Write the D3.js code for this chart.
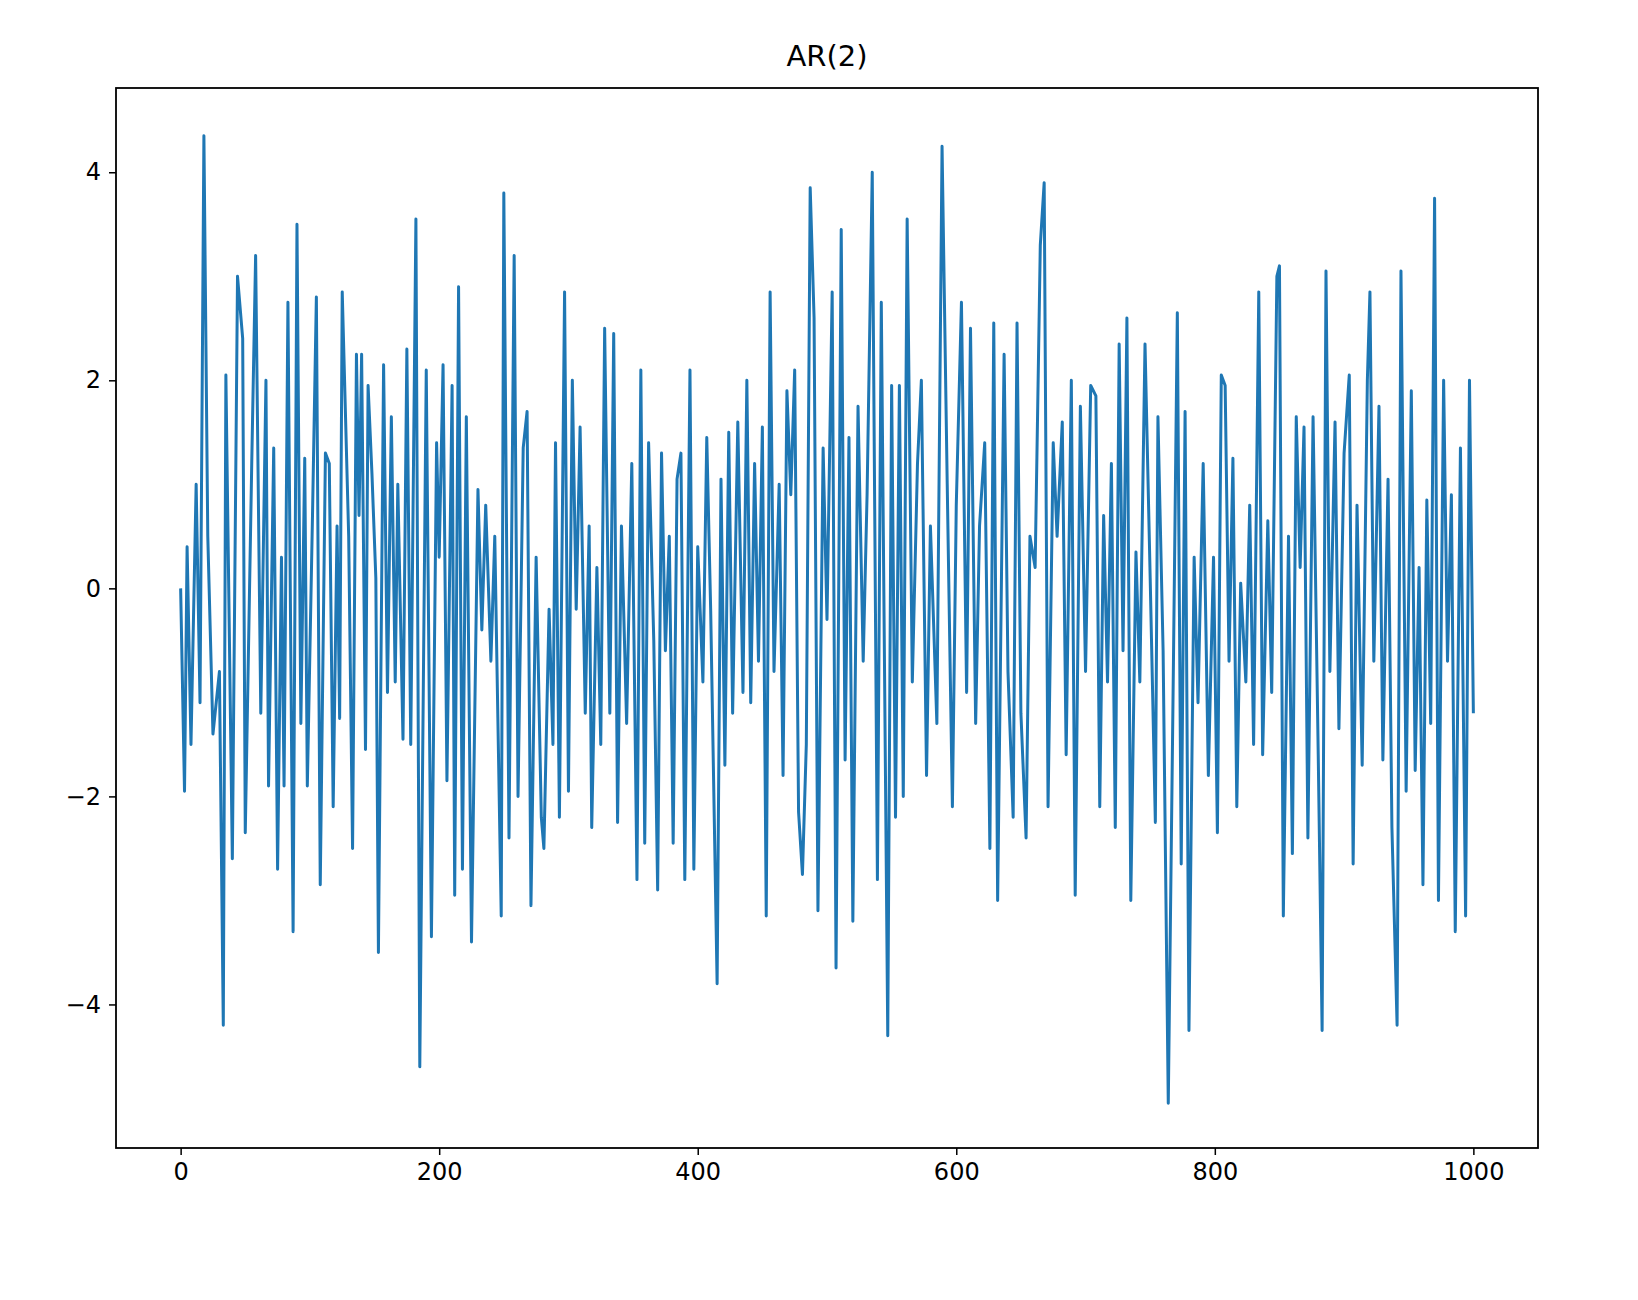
<!doctype html>
<html>
<head>
<script src="https://cdnjs.cloudflare.com/ajax/libs/d3/7.8.5/d3.min.js"></script>
<style>
  body { margin: 0; background: #fff; }
  text { font-family: "DejaVu Sans", sans-serif; }
</style>
</head>
<body>
<svg id="chart" width="1638" height="1300"></svg>
<script>
// sample index and value (extremes of the series)
var steps = [0,3,5,8,12,15,18,21,25,30,33,35,40,44,48,50,55,58,62,66,68,72,75,78,80,83,87,90,93,96,98,102,105,108,112,115,118,121,123,125,130,133,136,138,140,143,145,148,151,153,157,160,163,166,168,172,175,178,182,185,190,194,198,200,203,206,210,212,215,218,221,225,230,233,236,240,243,248,250,254,258,261,265,268,271,275,279,281,285,288,290,293,297,300,303,306,309,313,316,318,322,325,328,332,335,338,341,345,349,353,356,359,362,366,369,372,375,378,381,384,387,390,394,397,400,404,407,410,415,418,421,424,427,431,435,438,441,444,447,450,453,456,459,463,466,469,472,475,478,481,484,487,490,493,497,500,504,507,511,514,517,520,524,528,531,535,539,542,547,550,553,556,559,562,566,570,573,577,580,585,589,593,597,600,604,608,611,615,618,622,626,629,632,637,640,644,647,650,654,657,661,665,668,671,675,678,682,685,689,692,696,700,704,708,711,714,717,720,723,726,729,732,735,739,742,746,750,754,756,760,764,768,771,774,777,780,784,787,791,795,799,802,805,808,811,814,817,820,824,827,830,834,837,841,844,848,850,853,857,860,863,866,869,872,876,880,883,886,889,893,896,900,904,907,910,914,918,920,923,927,930,934,937,941,944,948,952,955,958,961,964,967,970,973,977,980,983,986,990,994,997,1000];
var values = [0,-1.95,0.4,-1.5,1.0,-1.1,4.35,0.5,-1.4,-0.8,-4.2,2.05,-2.6,3.0,2.4,-2.35,1.2,3.2,-1.2,2.0,-1.9,1.35,-2.7,0.3,-1.9,2.75,-3.3,3.5,-1.3,1.25,-1.9,0.7,2.8,-2.85,1.3,1.2,-2.1,0.6,-1.25,2.85,0.5,-2.5,2.25,0.7,2.25,-1.55,1.95,1.1,0.1,-3.5,2.15,-1.0,1.65,-0.9,1.0,-1.45,2.3,-1.5,3.55,-4.6,2.1,-3.35,1.4,0.3,2.15,-1.85,1.95,-2.95,2.9,-2.7,1.65,-3.4,0.95,-0.4,0.8,-0.7,0.5,-3.15,3.8,-2.4,3.2,-2.0,1.35,1.7,-3.05,0.3,-2.2,-2.5,-0.2,-1.5,1.4,-2.2,2.85,-1.95,2.0,-0.2,1.55,-1.2,0.6,-2.3,0.2,-1.5,2.5,-1.2,2.45,-2.25,0.6,-1.3,1.2,-2.8,2.1,-2.45,1.4,-0.5,-2.9,1.3,-0.6,0.5,-2.45,1.05,1.3,-2.8,2.1,-2.7,0.4,-0.9,1.45,-0.2,-3.8,1.05,-1.7,1.5,-1.2,1.6,-1.0,2.0,-1.1,1.2,-0.7,1.55,-3.15,2.85,-0.8,1.0,-1.8,1.9,0.9,2.1,-2.15,-2.75,-1.5,3.85,2.6,-3.1,1.35,-0.3,2.85,-3.65,3.45,-1.65,1.45,-3.2,1.75,-0.7,0.9,4.0,-2.8,2.75,-4.3,1.95,-2.2,1.95,-2.0,3.55,-0.9,1.2,2.0,-1.8,0.6,-1.3,4.25,1.0,-2.1,0.8,2.75,-1.0,2.5,-1.3,0.6,1.4,-2.5,2.55,-3.0,2.25,-0.8,-2.2,2.55,-1.2,-2.4,0.5,0.2,3.3,3.9,-2.1,1.4,0.5,1.6,-1.6,2.0,-2.95,1.75,-0.8,1.95,1.85,-2.1,0.7,-0.9,1.2,-2.3,2.35,-0.6,2.6,-3.0,0.35,-0.9,2.35,0.1,-2.25,1.65,-0.6,-4.95,-0.7,2.65,-2.65,1.7,-4.25,0.3,-1.1,1.2,-1.8,0.3,-2.35,2.05,1.95,-0.7,1.25,-2.1,0.05,-0.9,0.8,-1.5,2.85,-1.6,0.65,-1.0,3.0,3.1,-3.15,0.5,-2.55,1.65,0.2,1.55,-2.4,1.65,-1.6,-4.25,3.05,-0.8,1.6,-1.35,1.3,2.05,-2.65,0.8,-1.7,2.0,2.85,-0.7,1.75,-1.65,1.05,-2.3,-4.2,3.05,-1.95,1.9,-1.75,0.2,-2.85,0.85,-1.3,3.75,-3.0,2.0,-0.7,0.9,-3.3,1.35,-3.15,2.0,-1.2];
var xTicks = [0,200,400,600,800,1000];
var yTicks = [-4,-2,0,2,4];

var svg = d3.select("#chart");
var padLeft = 116, padRight = 1538, padTop = 88, padBottom = 1148;

var xScale = d3.scaleLinear().domain([-50, 1050]).range([padLeft, padRight]);
var yScale = d3.scaleLinear().domain([-5.38, 4.81]).range([padBottom, padTop]);

var line = d3.line()
  .x(function(d, i) { return xScale(steps[i]); })
  .y(function(d) { return yScale(d); });

svg.append("path")
  .attr("d", line(values))
  .attr("fill", "none")
  .attr("stroke", "#1f77b4")
  .attr("stroke-width", 3)
  .attr("stroke-linejoin", "round");

var xAxis = d3.axisBottom(xScale).tickValues(xTicks).tickSize(7).tickPadding(8)
  .tickFormat(d3.format("d"));
var yAxis = d3.axisLeft(yScale).tickValues(yTicks).tickSize(7).tickPadding(8)
  .tickFormat(function(d) { return d < 0 ? "\u2212" + Math.abs(d) : d; });

var gx = svg.append("g").attr("transform", "translate(0," + padBottom + ")").call(xAxis);
var gy = svg.append("g").attr("transform", "translate(" + padLeft + ",0)").call(yAxis);
[gx, gy].forEach(function(g) {
  g.select("path.domain").remove();
  g.selectAll("line").attr("stroke", "#000").attr("stroke-width", 1.5);
  g.selectAll("text").attr("font-size", 24).attr("fill", "#000")
    .style("font-family", "DejaVu Sans, sans-serif");
});

svg.append("rect")
  .attr("x", padLeft).attr("y", padTop)
  .attr("width", padRight - padLeft).attr("height", padBottom - padTop)
  .attr("fill", "none").attr("stroke", "#000").attr("stroke-width", 1.8);

svg.append("text")
  .attr("x", (padLeft + padRight) / 2).attr("y", 66)
  .attr("text-anchor", "middle")
  .attr("font-size", 29)
  .text("AR(2)");
</script>
</body>
</html>
